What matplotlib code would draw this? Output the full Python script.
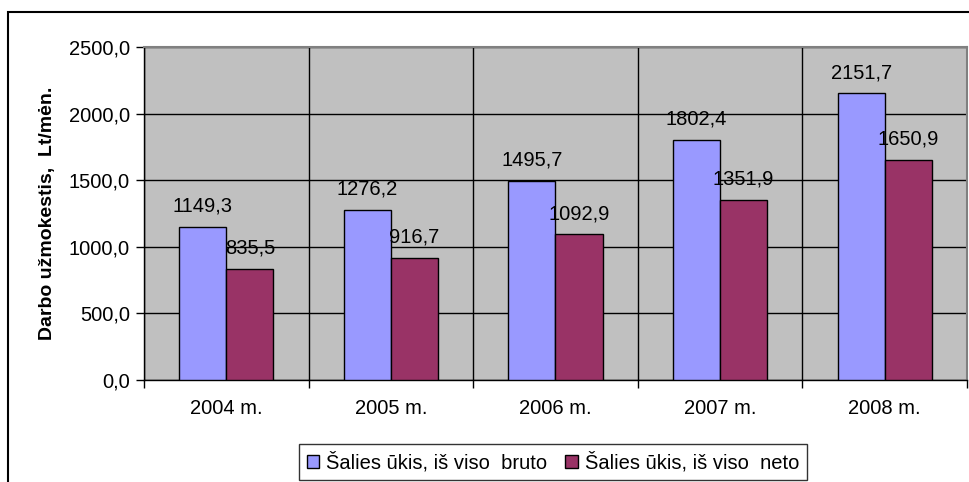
import matplotlib
matplotlib.use("Agg")
import matplotlib.pyplot as plt
from matplotlib.patches import Rectangle
import numpy as np

plt.rcParams['font.family'] = ['Liberation Sans', 'DejaVu Sans']

years = ["2004 m.", "2005 m.", "2006 m.", "2007 m.", "2008 m."]
bruto = [1149.3, 1276.2, 1495.7, 1802.4, 2151.7]
neto = [835.5, 916.7, 1092.9, 1351.9, 1650.9]
series_names = ["Šalies ūkis, iš viso  bruto", "Šalies ūkis, iš viso  neto"]
ylabel = "Darbo užmokestis,  Lt/mėn."

W, H = 970, 482
fig = plt.figure(figsize=(W / 100, H / 100), dpi=100)
ax = fig.add_axes([144 / W, 1 - 380 / H, (967 - 144) / W, (380 - 47) / H])
ax.set_facecolor("#C0C0C0")

x = np.arange(len(years))
w = 0.286
b1 = ax.bar(x - w / 2, bruto, w, color="#9999FF", edgecolor="black", linewidth=1, label=series_names[0], zorder=3)
b2 = ax.bar(x + w / 2, neto, w, color="#993366", edgecolor="black", linewidth=1, label=series_names[1], zorder=3)

fs = 14.5
for bars, vals in ((b1, bruto), (b2, neto)):
    for r, v in zip(bars, vals):
        ax.annotate(f"{v:.1f}".replace(".", ","), (r.get_x() + r.get_width() / 2, v),
                    xytext=(0, 8), textcoords="offset points", ha="center", va="bottom",
                    fontsize=fs, zorder=5)

ax.set_xlim(-0.5, len(years) - 0.5)
ax.set_ylim(0, 2500)
ax.set_yticks(np.arange(0, 2501, 500))
ax.set_yticklabels([f"{v:.1f}".replace(".", ",") for v in np.arange(0, 2501, 500)], fontsize=fs)
ax.set_xticks(np.arange(-0.5, len(years), 1))
ax.set_xticklabels([])
ax.set_xticks(x, minor=True)
ax.set_xticklabels(years, minor=True, fontsize=fs)
ax.tick_params(axis="x", which="minor", length=0, pad=14)
ax.tick_params(axis="x", which="major", length=6, width=1, direction="out")
ax.tick_params(axis="y", length=6, width=1, direction="out", pad=4)
ax.grid(True, which="major", color="black", linewidth=1, zorder=1)
ax.set_axisbelow(True)

for s in ("top", "right"):
    ax.spines[s].set_color("#808080")
    ax.spines[s].set_linewidth(1.5)
for s in ("left", "bottom"):
    ax.spines[s].set_color("black")
    ax.spines[s].set_linewidth(1)

ax.set_ylabel(ylabel, fontsize=14, fontweight="bold", labelpad=9)

leg = fig.legend(handles=[b1, b2], loc="center", bbox_to_anchor=((294 + 812) / 2 / W, 1 - 462 / H),
                 ncol=2, fontsize=fs, frameon=True, fancybox=False, edgecolor="black",
                 handlelength=0.6, handleheight=0.6, handletextpad=0.35, columnspacing=0.9,
                 borderpad=0.4, borderaxespad=0)
leg.get_frame().set_linewidth(1)

fig.patches.append(Rectangle((8 / W, -0.02), 1.05, 1 - 12 / H + 0.02, transform=fig.transFigure,
                             fill=False, edgecolor="black", linewidth=1.5, clip_on=False))

fig.savefig("out.png", dpi=100)
